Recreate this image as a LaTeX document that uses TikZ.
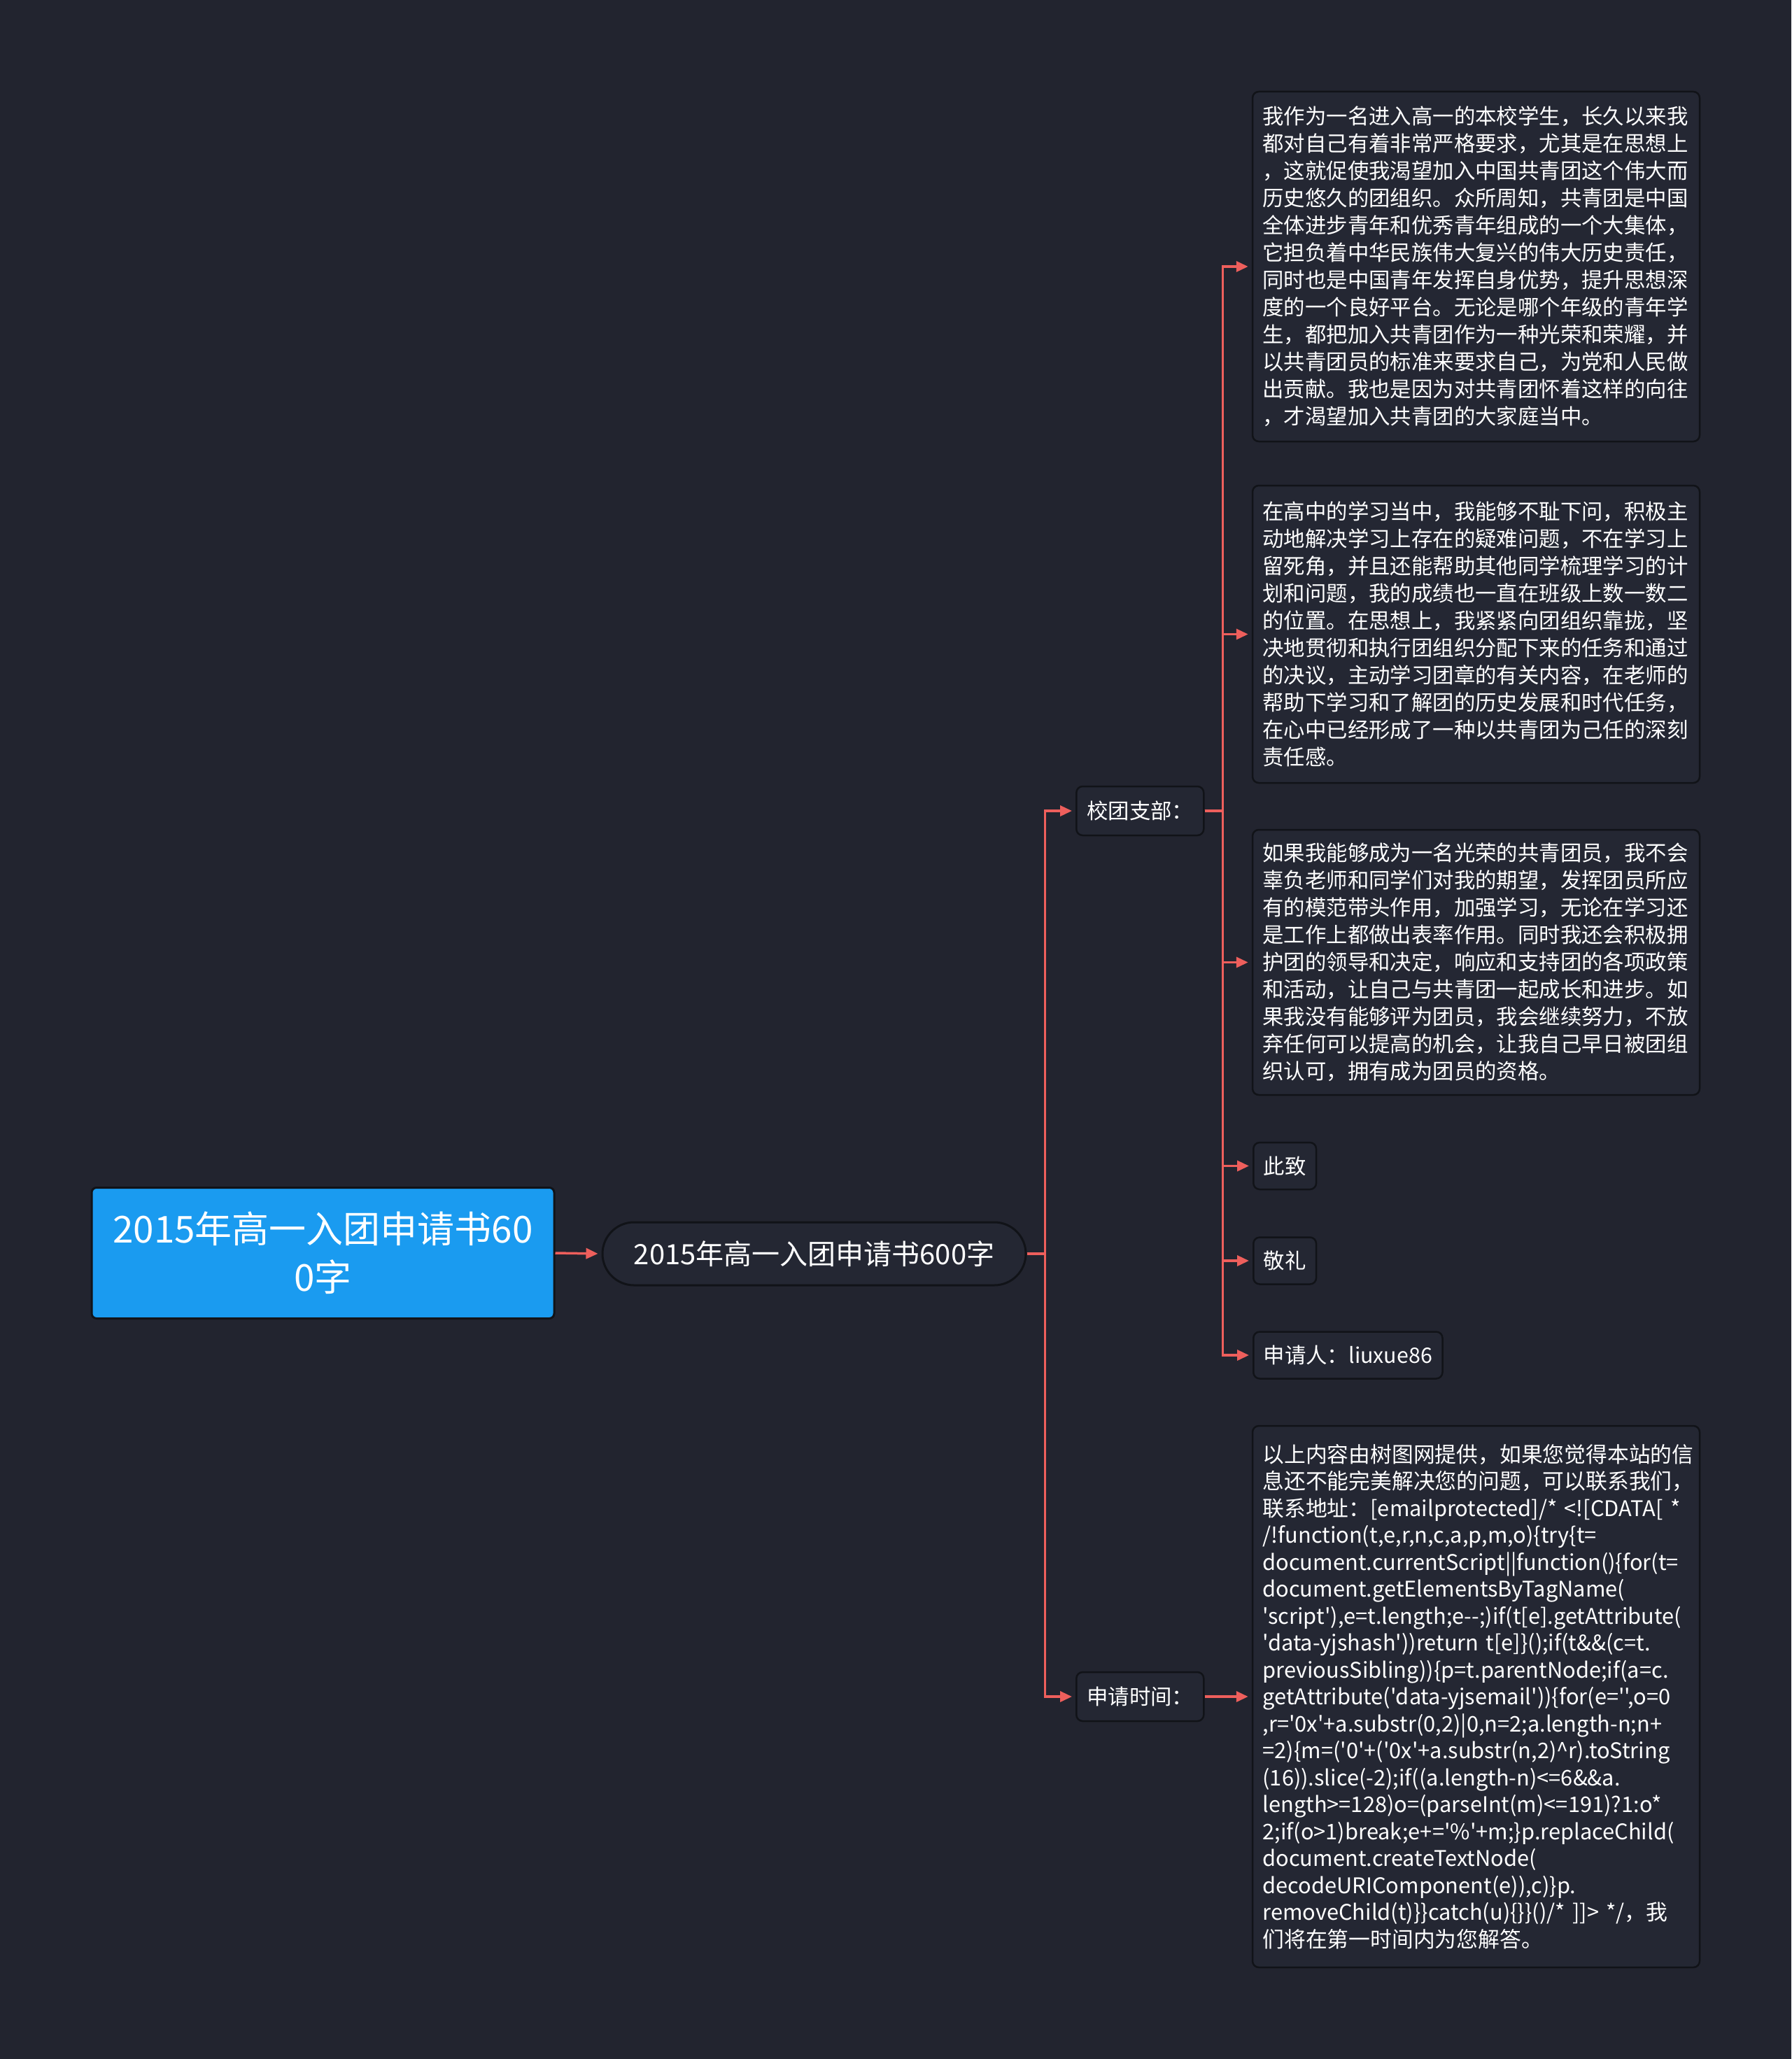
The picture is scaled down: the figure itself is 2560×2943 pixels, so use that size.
\documentclass[tikz,border=0pt]{standalone}
\usepackage{fontspec}
\setmainfont{Noto Sans CJK SC}[Ligatures=TeXOff]
\usetikzlibrary{arrows.meta}
\definecolor{bg}{HTML}{22242F}
\definecolor{boxfill}{HTML}{242733}
\definecolor{boxline}{HTML}{111318}
\definecolor{rootblue}{HTML}{1A9BF0}
\definecolor{linkred}{HTML}{EE5F5C}
\hyphenpenalty=10000
\exhyphenpenalty=10000
\tikzset{
  box/.style={draw=boxline, line width=2.5pt, fill=boxfill, rounded corners=9pt, text=white, inner sep=0pt},
  para/.style={box, text width=610pt, minimum width=639pt, align=left,
    font=\fontsize{30.4}{39}\selectfont},
  codepara/.style={para, font=\fontsize{30.8}{38.5}\selectfont},
  smallbox/.style={box, inner xsep=14.5pt, minimum height=67pt, anchor=west, font=\fontsize{30.4}{39}\selectfont},
  midbox/.style={box, inner xsep=15pt, minimum height=70pt, anchor=west, font=\fontsize{30.4}{39}\selectfont},
  conn/.style={draw=linkred, line width=3.5pt, -{Triangle[length=17pt,width=15pt]}, shorten >=5pt},
}
\begin{document}
\begin{tikzpicture}[x=1pt,y=-1pt]
\useasboundingbox (0,0) rectangle (2560,2943);
\fill[bg] (0,0) rectangle (2560,2943);

\node[draw=boxline, line width=3pt, fill=rootblue, rounded corners=7pt, text=white,
  minimum width=661pt, minimum height=187pt, align=center, inner sep=0pt,
  font=\fontsize{53}{69}\selectfont] (root) at (461.5,1791) {2015年高一入团申请书60\\0字};

\node[draw=boxline, line width=3pt, fill=boxfill, rounded corners=45pt, text=white,
  minimum width=605pt, minimum height=90pt, inner sep=0pt,
  font=\fontsize{40}{48}\selectfont] (l1) at (1163.5,1792) {2015年高一入团申请书600字};

\node[midbox] (xt) at (1537,1159) {校团支部：};
\node[midbox] (sq) at (1537,2425) {申请时间：};

\node[para, minimum height=500pt] (t1) at (2109.5,381) {我作为一名进入高一的本校学生，长久以来我\\
都对自己有着非常严格要求，尤其是在思想上\\
，这就促使我渴望加入中国共青团这个伟大而\\
历史悠久的团组织。众所周知，共青团是中国\\
全体进步青年和优秀青年组成的一个大集体，\\
它担负着中华民族伟大复兴的伟大历史责任，\\
同时也是中国青年发挥自身优势，提升思想深\\
度的一个良好平台。无论是哪个年级的青年学\\
生，都把加入共青团作为一种光荣和荣耀，并\\
以共青团员的标准来要求自己，为党和人民做\\
出贡献。我也是因为对共青团怀着这样的向往\\
，才渴望加入共青团的大家庭当中。};

\node[para, minimum height=425pt] (t2) at (2109.5,906.5) {在高中的学习当中，我能够不耻下问，积极主\\
动地解决学习上存在的疑难问题，不在学习上\\
留死角，并且还能帮助其他同学梳理学习的计\\
划和问题，我的成绩也一直在班级上数一数二\\
的位置。在思想上，我紧紧向团组织靠拢，坚\\
决地贯彻和执行团组织分配下来的任务和通过\\
的决议，主动学习团章的有关内容，在老师的\\
帮助下学习和了解团的历史发展和时代任务，\\
在心中已经形成了一种以共青团为己任的深刻\\
责任感。};

\node[para, minimum height=379pt] (t3) at (2109.5,1375.5) {如果我能够成为一名光荣的共青团员，我不会\\
辜负老师和同学们对我的期望，发挥团员所应\\
有的模范带头作用，加强学习，无论在学习还\\
是工作上都做出表率作用。同时我还会积极拥\\
护团的领导和决定，响应和支持团的各项政策\\
和活动，让自己与共青团一起成长和进步。如\\
果我没有能够评为团员，我会继续努力，不放\\
弃任何可以提高的机会，让我自己早日被团组\\
织认可，拥有成为团员的资格。};

\node[smallbox] (cz) at (1790,1666.5) {此致};
\node[smallbox] (jl) at (1790,1802) {敬礼};
\node[smallbox] (sqr) at (1790,1937) {申请人：liuxue86};

\node[codepara, minimum height=774pt] (t4) at (2109.5,2425) {以上内容由树图网提供，如果您觉得本站的信\\
息还不能完美解决您的问题，可以联系我们，\\
联系地址：[emailprotected]/*~<![CDATA[~*\\
/!function(t,e,r,n,c,a,p,m,o)\{try\{t=\\
document.currentScript||function()\{for(t=\\
document.getElementsByTagName(\\
'script'),e=t.length;e-{}-;)if(t[e].getAttribute(\\
'data-yjshash'))return~t[e]\}();if(t\&\&(c=t.\\
previousSibling))\{p=t.parentNode;if(a=c.\\
getAttribute('data-yjsemail'))\{for(e='{}',o=0\\
,r='0x'+a.substr(0,2)|0,n=2;a.length-n;n+\\
=2)\{m=('0'+('0x'+a.substr(n,2)\textasciicircum r).toString\\
(16)).slice(-2);if((a.length-n)<=6\&\&a.\\
length>=128)o=(parseInt(m)<=191)?1:o*\\
2;if(o>1)break;e+='\%'+m;\}p.replaceChild(\\
document.createTextNode(\\
decodeURIComponent(e)),c)\}p.\\
removeChild(t)\}\}catch(u)\{\}\}()/*~]]>~*/，我\\
们将在第一时间内为您解答。};

\draw[conn] (root.east) -- (l1.west);
\draw[conn] (l1.east) -- ++(26,0) |- (xt.west);
\draw[conn] (l1.east) -- ++(26,0) |- (sq.west);
\draw[conn] (xt.east) -- ++(26,0) |- (t1.west);
\draw[conn] (xt.east) -- ++(26,0) |- (t2.west);
\draw[conn] (xt.east) -- ++(26,0) |- (t3.west);
\draw[conn] (xt.east) -- ++(26,0) |- (cz.west);
\draw[conn] (xt.east) -- ++(26,0) |- (jl.west);
\draw[conn] (xt.east) -- ++(26,0) |- (sqr.west);
\draw[conn] (sq.east) -- (t4.west);
\end{tikzpicture}
\end{document}
